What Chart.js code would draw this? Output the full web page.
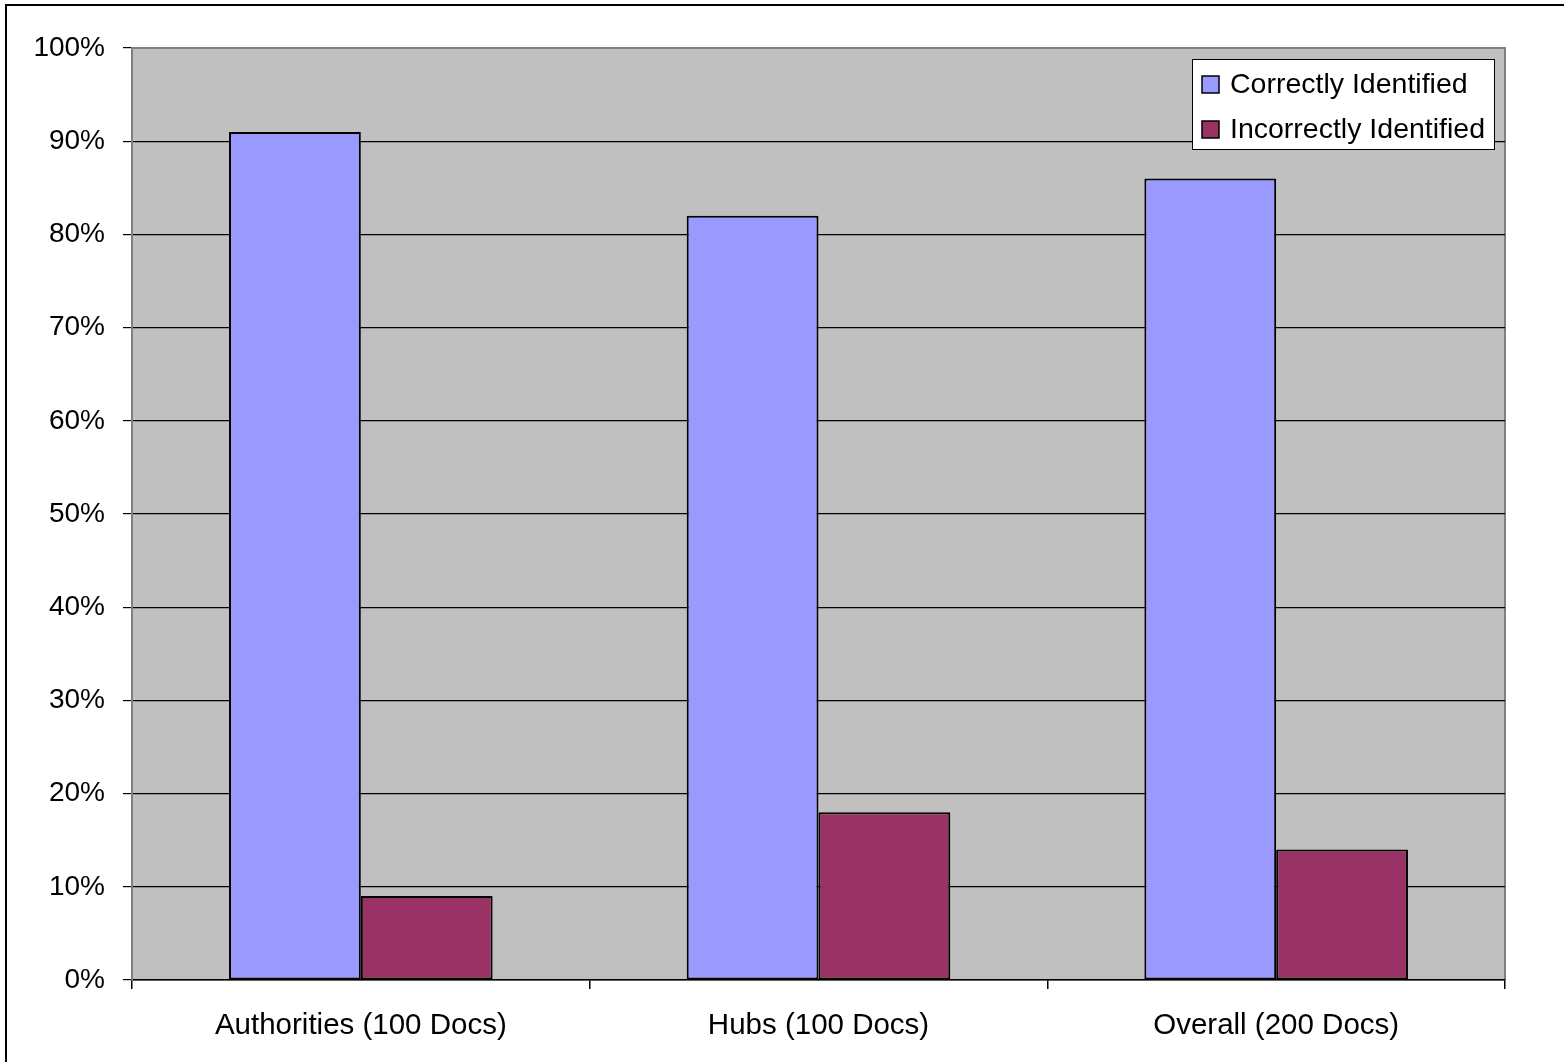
<!DOCTYPE html>
<html>
<head>
<meta charset="utf-8">
<script src="https://cdn.jsdelivr.net/npm/chart.js@4.4.1/dist/chart.umd.min.js"></script>
<style>
  html, body { margin: 0; padding: 0; background: #ffffff; }
  #wrap { width: 1564px; height: 1062px; position: relative; }
</style>
</head>
<body>
<div id="wrap"><canvas id="chart" width="1564" height="1062"></canvas></div>
<script>
// Chart data
const categories = ['Authorities (100 Docs)', 'Hubs (100 Docs)', 'Overall (200 Docs)'];
const correctlyIdentified = [91, 82, 86];
const incorrectlyIdentified = [9, 18, 14];
const seriesNames = ['Correctly Identified', 'Incorrectly Identified'];

const FONT = '"Liberation Sans", Arial, sans-serif';

// Gray plot background, plot border, outer frame and legend box
const decorations = {
    id: 'decorations',
    beforeDraw(chart) {
        const ctx = chart.ctx;
        const a = chart.chartArea;
        ctx.save();
        ctx.fillStyle = '#ffffff';
        ctx.fillRect(0, 0, chart.width, chart.height);
        // outer frame
        ctx.strokeStyle = '#000000';
        ctx.lineWidth = 2;
        ctx.strokeRect(6, 5, chart.width + 10, chart.height + 10);
        // plot area
        ctx.fillStyle = '#c0c0c0';
        ctx.fillRect(a.left, a.top, a.right - a.left, a.bottom - a.top);
        ctx.strokeStyle = '#808080';
        ctx.lineWidth = 2;
        ctx.beginPath();
        ctx.moveTo(a.left, a.bottom);
        ctx.lineTo(a.left, a.top);
        ctx.lineTo(a.right, a.top);
        ctx.lineTo(a.right, a.bottom);
        ctx.stroke();
        ctx.restore();
    },
    afterDraw(chart) {
        const ctx = chart.ctx;
        ctx.save();
        const x = 1192, y = 59, w = 302, h = 90;
        ctx.fillStyle = '#ffffff';
        ctx.fillRect(x, y, w, h);
        ctx.strokeStyle = '#000000';
        ctx.lineWidth = 1;
        ctx.strokeRect(x + 0.5, y + 0.5, w, h);
        ctx.font = '28.5px ' + FONT;
        ctx.textBaseline = 'middle';
        chart.data.datasets.forEach((ds, i) => {
            const cy = y + 25 + i * 45;
            ctx.fillStyle = ds.backgroundColor;
            ctx.fillRect(x + 10, cy - 8, 17, 17);
            ctx.strokeStyle = '#000000';
            ctx.lineWidth = 1.5;
            ctx.strokeRect(x + 10, cy - 8, 17, 17);
            ctx.fillStyle = '#000000';
            ctx.fillText(ds.label, x + 38, cy + 1);
        });
        ctx.restore();
    }
};

new Chart(document.getElementById('chart'), {
    type: 'bar',
    data: {
        labels: categories,
        datasets: [{
            label: seriesNames[0],
            data: correctlyIdentified,
            backgroundColor: '#9999ff',
            borderColor: '#000000',
            borderWidth: 2,
            borderSkipped: false,
            barPercentage: 1.0,
            categoryPercentage: 0.576
        }, {
            label: seriesNames[1],
            data: incorrectlyIdentified,
            backgroundColor: '#993366',
            borderColor: '#000000',
            borderWidth: 2,
            borderSkipped: false,
            barPercentage: 1.0,
            categoryPercentage: 0.576
        }]
    },
    options: {
        responsive: false,
        animation: false,
        layout: { padding: { left: 0, top: 48, right: 59, bottom: 0 } },
        plugins: {
            legend: { display: false },
            tooltip: { enabled: false }
        },
        scales: {
            x: {
                afterFit(scale) { scale.height = 82; },
                grid: {
                    display: true,
                    offset: true,
                    drawOnChartArea: false,
                    drawTicks: true,
                    tickLength: 9,
                    tickColor: '#000000',
                    lineWidth: 1.5
                },
                border: { display: true, color: '#000000', width: 1.5 },
                ticks: {
                    color: '#000000',
                    padding: 19,
                    font: { family: FONT, size: 29.5 }
                }
            },
            y: {
                min: 0,
                max: 100,
                afterFit(scale) { scale.width = 132; },
                grid: {
                    color: (c) => (c.tick && c.tick.value === 100) ? '#808080' : '#000000',
                    lineWidth: 1.2,
                    tickLength: 9,
                    tickColor: '#000000'
                },
                border: { display: true, color: '#808080', width: 2 },
                ticks: {
                    stepSize: 10,
                    color: '#000000',
                    padding: 18,
                    font: { family: FONT, size: 28 },
                    callback: (v) => v + '%'
                }
            }
        }
    },
    plugins: [decorations]
});
</script>
</body>
</html>
